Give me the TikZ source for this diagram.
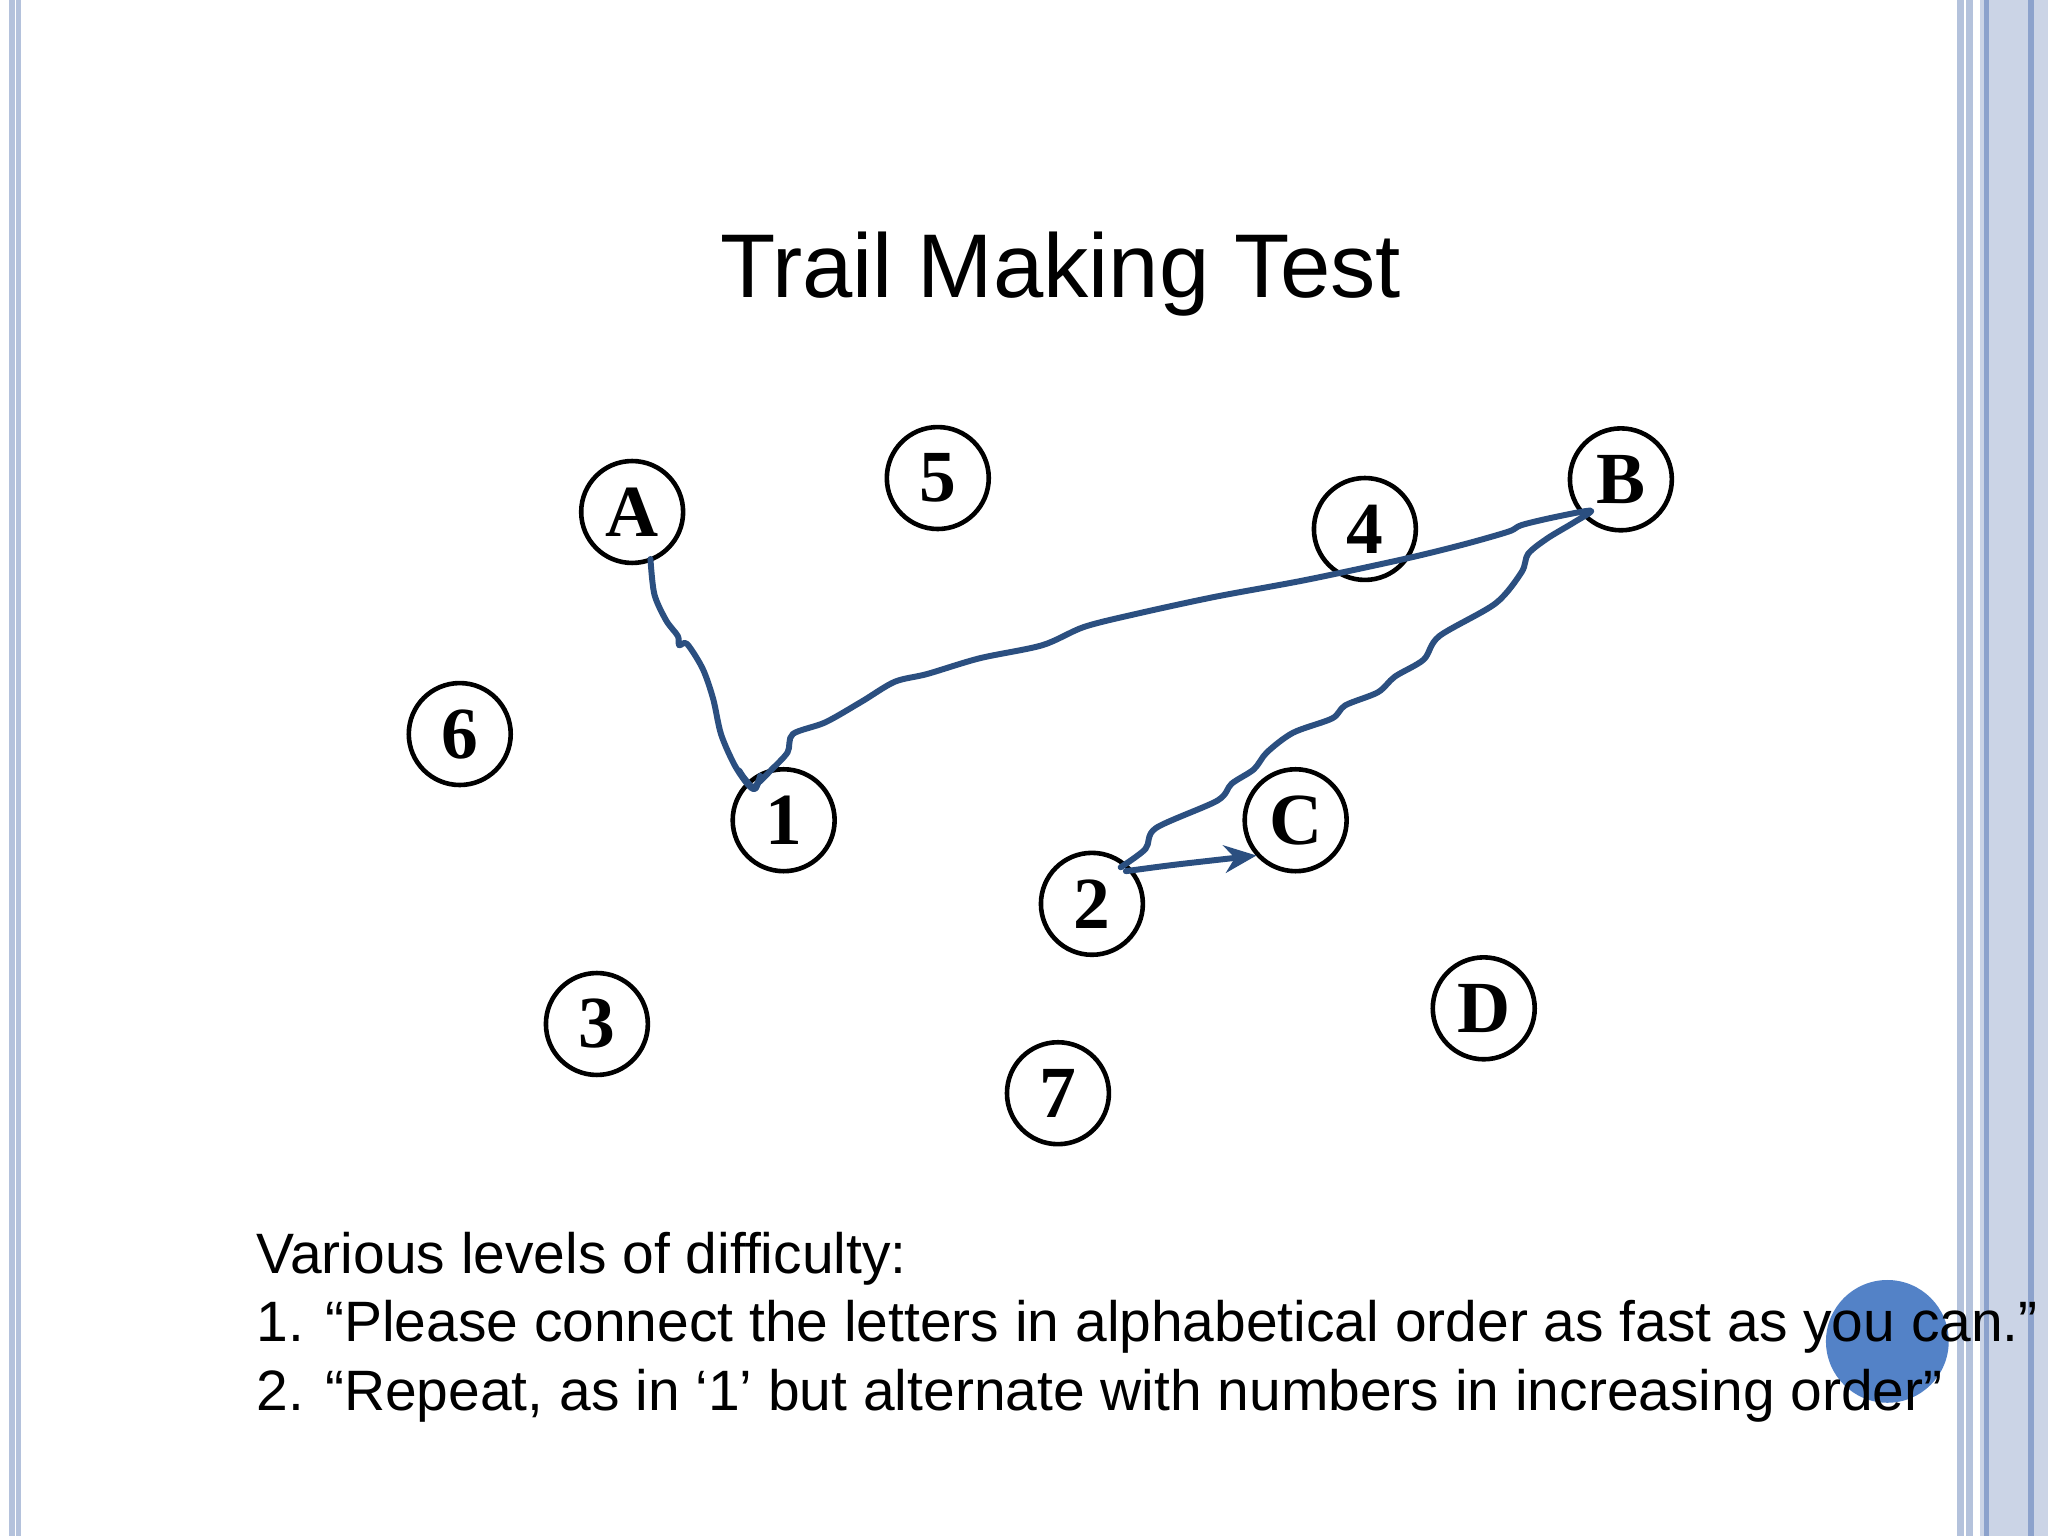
\documentclass[tikz,border=0pt]{standalone}
\usepackage{fontspec}
\setmainfont{Liberation Sans}
\newfontfamily\serifb{Liberation Serif}
\usetikzlibrary{arrows.meta}
\definecolor{trail}{HTML}{2B4F80}
\definecolor{frame}{HTML}{B4C2DC}
\definecolor{frameb}{HTML}{CBD4E6}
\definecolor{framed}{HTML}{8CA2CC}
\definecolor{dot}{HTML}{4A7CC4}
\begin{document}
\begin{tikzpicture}[x=0.01cm,y=-0.01cm,
  circ/.style={draw,circle,line width=1pt,minimum size=0.78cm,inner sep=0pt,font=\serifb\bfseries\fontsize{16}{16}\selectfont},
  trailline/.style={draw=trail,line width=1.3pt,line cap=round,line join=round}]
\useasboundingbox (0,0) rectangle (1568,1176);
\fill[white] (0,0) rectangle (1568,1176);
% borders
\draw[frame,line width=1.2pt] (9,0)--(9,1176);
\draw[frame,line width=1.2pt] (14,0)--(14,1176);
\draw[frame,line width=1.5pt] (1501,0)--(1501,1176);
\draw[frame,line width=1.5pt] (1508,0)--(1508,1176);
\fill[frameb] (1516,0) rectangle (1568,1176);
\draw[framed,line width=1pt] (1521,0)--(1521,1176);
\draw[framed,line width=1.2pt] (1555,0)--(1555,1176);
% title
\node (title) at (812,210) {\fontsize{19.7}{24}\selectfont Trail Making Test};
% circles
\node[circ] (A) at (484,392) {A};
\node[circ] (n5) at (718,366) {5};
\node[circ] (n4) at (1045,405) {4};
\node[circ] (B) at (1241,367) {B};
\node[circ] (n6) at (352,562) {6};
\node[circ] (n1) at (600,628) {1};
\node[circ] (C) at (992,628) {C};
\node[circ] (n2) at (836,692) {2};
\node[circ] (n3) at (457,784) {3};
\node[circ] (D) at (1136,772) {D};
\node[circ] (n7) at (810,837) {7};
% trail
\draw[trailline] plot[smooth,tension=0.5] coordinates {(498,428) (501,455) (510,475) (519,487) (520,494) (526,493) (538,512) (546,535) (552,562) (562,585) (572,600) (578,604) (582,594) (578,604) (570,596) (566,590)};
\draw[trailline] plot[smooth,tension=0.5] coordinates {(578,602) (590,590) (603,576) (607,562) (632,553) (660,537) (685,522) (710,516) (750,504) (798,494) (830,480) (870,470) (930,457) (1000,444) (1075,428) (1120,417) (1155,407) (1165,402) (1190,396) (1218,391) (1205,400) (1185,412) (1170,424) (1165,438) (1145,462) (1102,487) (1090,505) (1068,518) (1055,530) (1030,540) (1020,550) (990,561) (970,576) (960,589) (943,600) (932,613) (885,634) (877,650) (858,664)};
\coordinate (s2) at (862,667);
\draw[trailline,-{Stealth[length=7pt,width=6pt]}] plot[smooth,tension=0.5] coordinates {(s2) (900,662) (962,655)};
\fill[dot,opacity=0.95] (1445,1027) circle (47);
% text
\node[anchor=west,align=left,font=\fontsize{12.4}{14.9}\selectfont] (txt) at (184,1016) {Various levels of difficulty:\\1. “Please connect the letters in alphabetical order as fast as you can.”\\2. “Repeat, as in ‘1’ but alternate with numbers in increasing order”};
\end{tikzpicture}
\end{document}
